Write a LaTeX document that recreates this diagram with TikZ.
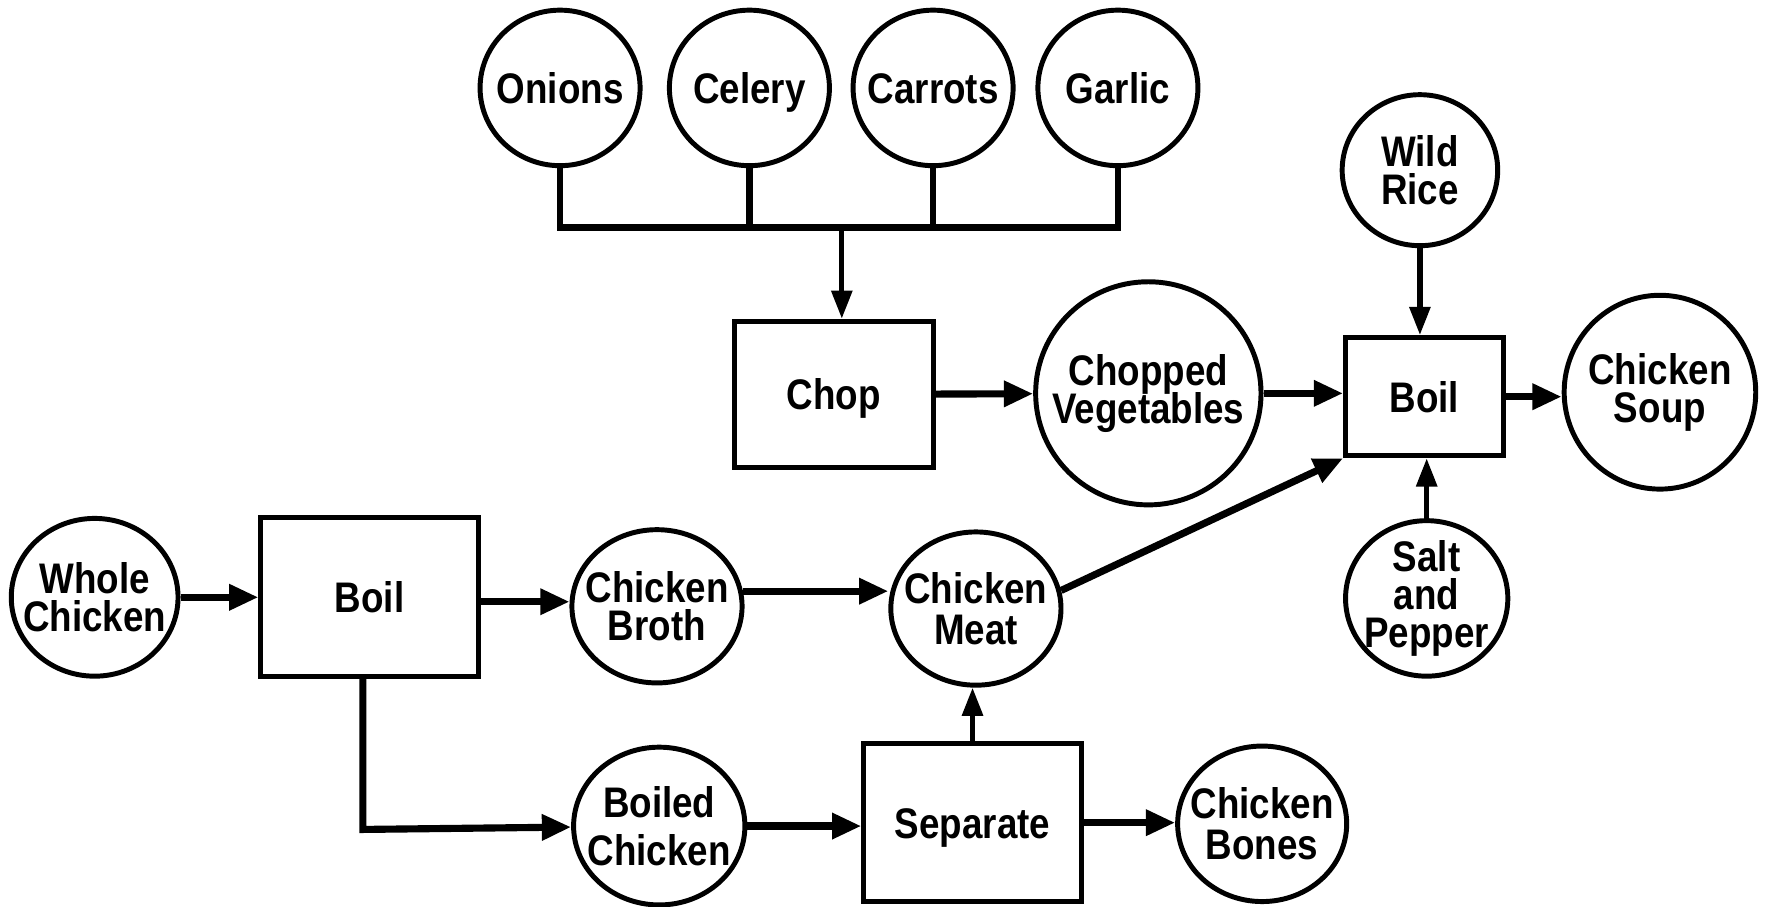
\documentclass[tikz,border=0pt]{standalone}
\usepackage{fontspec}
\setmainfont{Liberation Sans}[FakeStretch=0.86]
\usetikzlibrary{shapes.geometric,arrows.meta}

% label fonts: tight line spacing, no extra lineskip
\newcommand\lblset[1]{\bfseries\fontsize{10.8}{#1}\selectfont\lineskiplimit=-10pt\relax\lineskip=0pt\relax}

\tikzset{
  lbl/.style={font=\lblset{9.6}, align=center, inner sep=0pt},
  oneline/.style={text height=7.8pt, text depth=0pt},
  item/.style={ellipse, draw, line width=1.25pt, inner sep=0pt},
  proc/.style={lbl, oneline, rectangle, draw, line width=1.25pt},
  flow/.style={line width=1.8pt, -{Triangle[length=0.26cm,width=0.22cm]}},
  thinflow/.style={line width=1.3pt, -{Triangle[length=0.25cm,width=0.18cm]}},
  joinline/.style={line width=1.6pt}
}

\begin{document}
\begin{tikzpicture}
\fill[white] (0,0) rectangle (15.68,-8.04);
\useasboundingbox (0,0) rectangle (15.68,-8.04);

% vegetables
\node[item, minimum width=1.42cm, minimum height=1.38cm, label={[lbl,oneline]center:Onions}]  (onions)  at (4.97,-0.78) {};
\node[item, minimum width=1.42cm, minimum height=1.38cm, label={[lbl,oneline]center:Celery}]  (celery)  at (6.65,-0.78) {};
\node[item, minimum width=1.42cm, minimum height=1.38cm, label={[lbl,oneline]center:Carrots}] (carrots) at (8.28,-0.78) {};
\node[item, minimum width=1.42cm, minimum height=1.38cm, label={[lbl,oneline]center:Garlic}]  (garlic)  at (9.92,-0.78) {};

% upper chain
\node[proc, minimum width=1.77cm, minimum height=1.30cm] (chop)  at (7.40,-3.50) {Chop};
\node[item, minimum width=2.00cm, minimum height=1.98cm, label={[lbl]center:Chopped\\Vegetables}] (cveg) at (10.19,-3.49) {};
\node[proc, minimum width=1.40cm, minimum height=1.05cm] (boilB) at (12.64,-3.52) {Boil};
\node[item, minimum width=1.70cm, minimum height=1.72cm, label={[lbl]center:Chicken\\Soup}] (soup) at (14.73,-3.48) {};
\node[item, minimum width=1.38cm, minimum height=1.34cm, label={[lbl]center:Wild\\Rice}] (rice) at (12.60,-1.51) {};
\node[item, minimum width=1.44cm, minimum height=1.38cm, label={[lbl]center:Salt\\and\\Pepper}] (salt) at (12.66,-5.31) {};

% chicken chain
\node[item, minimum width=1.48cm, minimum height=1.40cm, label={[lbl]center:Whole\\Chicken}] (whole) at (0.84,-5.30) {};
\node[proc, minimum width=1.93cm, minimum height=1.41cm] (boilA) at (3.28,-5.30) {Boil};
\node[item, minimum width=1.51cm, minimum height=1.36cm, label={[lbl]center:Chicken\\Broth}] (broth) at (5.83,-5.38) {};
\node[item, minimum width=1.51cm, minimum height=1.36cm, label={[lbl, font=\lblset{10.2}]center:Chicken\\Meat}] (meat) at (8.66,-5.40) {};
\node[item, minimum width=1.52cm, minimum height=1.40cm, label={[lbl, font=\lblset{12}]center:Boiled\\Chicken}] (boiled) at (5.85,-7.33) {};
\node[proc, minimum width=1.93cm, minimum height=1.40cm] (sep) at (8.63,-7.30) {Separate};
\node[item, minimum width=1.50cm, minimum height=1.38cm, label={[lbl, font=\lblset{10.5}]center:Chicken\\Bones}] (bones) at (11.20,-7.31) {};

% junction of the vegetable lines
\coordinate (bar) at (7.47,-2.02);
\coordinate (elb) at (3.22,-7.36);

\draw[joinline] (onions.south) -- (onions.south |- bar) -- (garlic.south |- bar) -- (garlic.south);
\draw[joinline] (celery.south) -- (celery.south |- bar);
\draw[joinline] (carrots.south) -- (carrots.south |- bar);
\draw[thinflow] (bar) -- (bar |- chop.north);

\draw[flow] (chop) -- (cveg);
\draw[flow] (cveg.east) -- (cveg.east -| boilB.west);
\draw[flow] (boilB.east) -- (boilB.east -| soup.west);
\draw[thinflow] (rice.south) -- (rice.south |- boilB.north);
\draw[thinflow] (salt.north) -- (salt.north |- boilB.south);
\draw[flow] (meat.12) -- (boilB.south west);

\draw[flow] (whole) -- (boilA);
\draw[flow] (boilA.east |- broth.177) -- (broth.177);
\draw[flow] (broth.10) -- (broth.10 -| meat.west);
\draw[flow] (boilA.south -| elb) -- (elb) -- (boiled);
\draw[flow] (boiled.east) -- (boiled.east -| sep.west);
\draw[thinflow] (sep.north) -- (sep.north |- meat.south);
\draw[flow] (sep.east) -- (sep.east -| bones.west);
\end{tikzpicture}
\end{document}
